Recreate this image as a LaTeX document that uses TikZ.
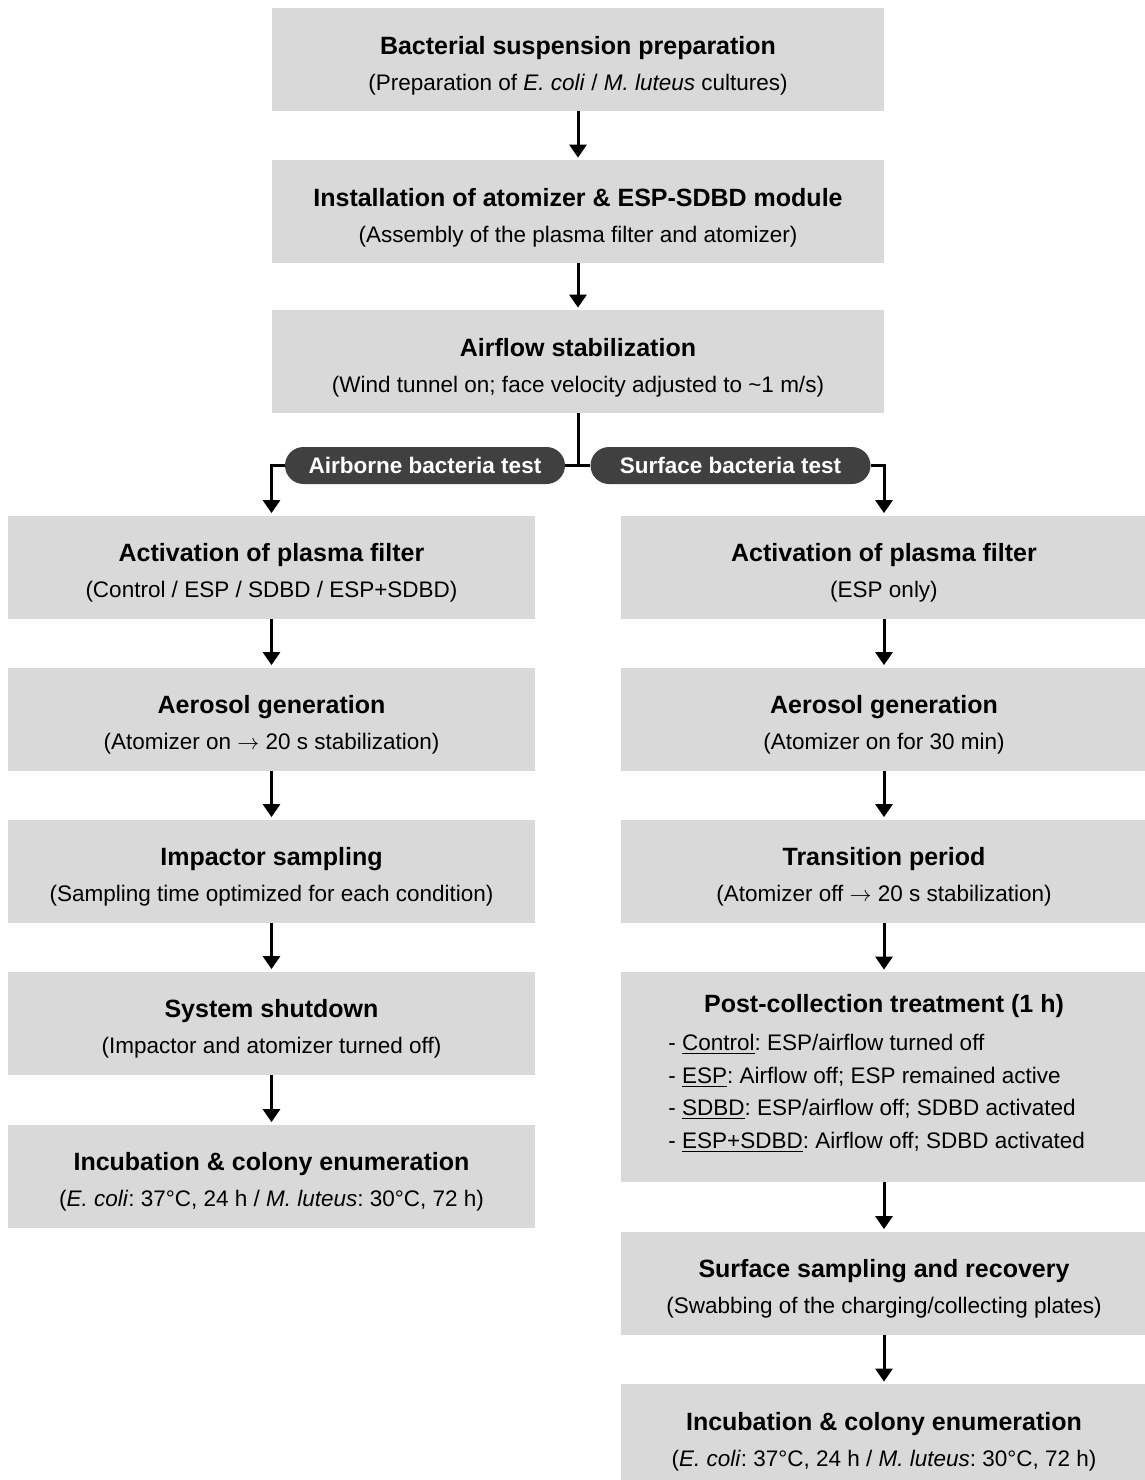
\documentclass[tikz,border=0pt]{standalone}
\usepackage{fontspec}
\setmainfont{Liberation Sans}
\usetikzlibrary{arrows.meta}
\definecolor{boxgray}{HTML}{D9D9D9}
\definecolor{pillgray}{HTML}{404040}
\frenchspacing
\tikzset{
  box/.style={fill=boxgray, inner xsep=0pt, inner ysep=0pt, align=center,
    text height=41pt, text depth=10.5pt,
    font=\fontsize{11.25pt}{18pt}\selectfont},
  wide/.style={box, minimum width=306pt},
  col/.style={box, minimum width=263.5pt},
  plainbox/.style={fill=boxgray, inner sep=0pt, minimum width=263.5pt},
  txt/.style={inner sep=0pt, anchor=base, font=\fontsize{11.25pt}{18pt}\selectfont},
  ttl/.style={inner sep=0pt, anchor=base, font=\bfseries\fontsize{12.5pt}{18pt}\selectfont},
  pill/.style={fill=pillgray, text=white, font=\bfseries\fontsize{11.25pt}{13pt}\selectfont,
    rounded corners=9.25pt, minimum width=140pt, minimum height=18.5pt, inner sep=0pt},
  arr/.style={line width=1.5pt, -{Triangle[width=8.5pt,length=6.5pt]}, shorten >=1pt},
  ln/.style={line width=1.5pt}
}
\newcommand{\ttlx}[1]{{\bfseries\fontsize{12.5pt}{18pt}\selectfont #1}}
\newcommand{\rarr}{$\rightarrow$}
\begin{document}
\begin{tikzpicture}[x=0.5pt,y=-0.5pt]
\useasboundingbox (0,0) rectangle (1145,1480);
% top column
\node[wide] (T1) at (578,59.5) {\ttlx{Bacterial suspension preparation}\\(Preparation of \textit{E. coli} / \textit{M. luteus} cultures)};
\node[wide] (T2) at (578,211.5) {\ttlx{Installation of atomizer \& ESP-SDBD module}\\(Assembly of the plasma filter and atomizer)};
\node[wide] (T3) at (578,361.5) {\ttlx{Airflow stabilization}\\(Wind tunnel on; face velocity adjusted to \textasciitilde1 m/s)};
% left column
\node[col] (L1) at (271.5,567) {\ttlx{Activation of plasma filter}\\(Control / ESP / SDBD / ESP+SDBD)};
\node[col] (L2) at (271.5,719) {\ttlx{Aerosol generation}\\(Atomizer on \rarr{} 20 s stabilization)};
\node[col] (L3) at (271.5,871) {\ttlx{Impactor sampling}\\(Sampling time optimized for each condition)};
\node[col] (L4) at (271.5,1023) {\ttlx{System shutdown}\\(Impactor and atomizer turned off)};
\node[col] (L5) at (271.5,1176) {\ttlx{Incubation \& colony enumeration}\\(\textit{E. coli}: 37°C, 24 h / \textit{M. luteus}: 30°C, 72 h)};
% right column
\node[col] (R1) at (884,567) {\ttlx{Activation of plasma filter}\\(ESP only)};
\node[col] (R2) at (884,719) {\ttlx{Aerosol generation}\\(Atomizer on for 30 min)};
\node[col] (R3) at (884,871) {\ttlx{Transition period}\\(Atomizer off \rarr{} 20 s stabilization)};
\node[plainbox, minimum height=105pt] (R4) at (884,1077) {};
\node[ttl] (R4t) at (884,1012) {Post-collection treatment (1 h)};
\node[txt, anchor=base west] (R4a) at (668,1050) {- \underline{Control}: ESP/airflow turned off};
\node[txt, anchor=base west] (R4b) at (668,1083) {- \underline{ESP}: Airflow off; ESP remained active};
\node[txt, anchor=base west] (R4c) at (668,1115) {- \underline{SDBD}: ESP/airflow off; SDBD activated};
\node[txt, anchor=base west] (R4d) at (668,1148) {- \underline{ESP+SDBD}: Airflow off; SDBD activated};
\node[col] (R5) at (884,1283) {\ttlx{Surface sampling and recovery}\\(Swabbing of the charging/collecting plates)};
\node[col] (R6) at (884,1435.5) {\ttlx{Incubation \& colony enumeration}\\(\textit{E. coli}: 37°C, 24 h / \textit{M. luteus}: 30°C, 72 h)};
% branch
\coordinate (J) at (578,465.5);
\node[pill] (PA) at (425,465.5) {Airborne bacteria test};
\node[pill] (PB) at (730.5,465.5) {Surface bacteria test};
% connectors
\draw[arr] (T1) -- (T2);
\draw[arr] (T2) -- (T3);
\draw[ln] (T3.south) -- (J);
\draw[ln] (PA.east) -- (PB.west);
\draw[arr] (PA.west) -| (L1.north);
\draw[arr] (PB.east) -| (R1.north);
\draw[arr] (L1) -- (L2);
\draw[arr] (L2) -- (L3);
\draw[arr] (L3) -- (L4);
\draw[arr] (L4) -- (L5);
\draw[arr] (R1) -- (R2);
\draw[arr] (R2) -- (R3);
\draw[arr] (R3) -- (R4);
\draw[arr] (R4) -- (R5);
\draw[arr] (R5) -- (R6);
\end{tikzpicture}
\end{document}
